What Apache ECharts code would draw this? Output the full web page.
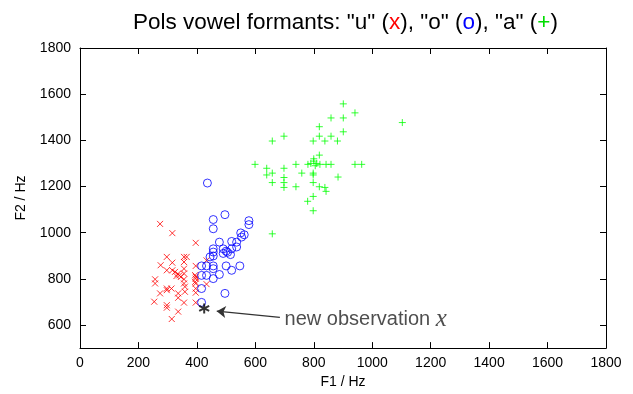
<!DOCTYPE html>
<html>
<head>
<meta charset="utf-8">
<script src="https://cdn.jsdelivr.net/npm/echarts@6/dist/echarts.min.js"></script>
<style>
  html, body { margin: 0; padding: 0; background: #fff; }
  #chart { width: 633px; height: 394px; }
</style>
</head>
<body>
<div id="chart"></div>
<script>
// vowel "u" : [F1, F2]
const vowelU = [
  [274, 1038], [316, 998], [396, 956], [297, 895], [356, 895], [365, 895],
  [276, 859], [316, 870], [356, 873], [396, 856], [297, 837], [316, 837],
  [325, 830], [340, 815], [335, 822], [345, 808], [330, 812], [356, 844],
  [356, 823], [396, 809], [396, 801], [257, 798], [257, 780], [356, 798],
  [356, 780], [297, 758], [297, 751], [313, 758], [274, 737], [336, 737],
  [336, 718], [359, 766], [359, 744], [396, 780], [396, 758], [396, 740],
  [254, 701], [297, 686], [297, 675], [356, 697], [396, 697], [336, 658],
  [314, 626], [433, 880], [433, 777], [394, 787], [394, 816]
]
// vowel "o"
const vowelO = [
  [436, 1215], [496, 1078], [456, 1057], [456, 1017], [578, 1052], [578, 1035],
  [553, 981], [562, 991], [550, 999], [477, 959], [519, 962], [536, 959],
  [456, 930], [456, 916], [490, 930], [500, 920], [490, 910], [505, 915],
  [515, 905], [519, 930], [536, 938], [445, 895], [456, 899], [416, 856],
  [433, 856], [456, 856], [456, 844], [500, 856], [519, 837], [547, 856],
  [416, 815], [433, 815], [456, 801], [477, 819], [416, 758], [496, 737],
  [416, 698]
]
// vowel "a"
const vowelA = [
  [901, 1558], [941, 1519], [859, 1497], [901, 1497], [1103, 1477], [819, 1459],
  [901, 1437], [819, 1418], [859, 1418], [658, 1397], [698, 1418], [798, 1397],
  [838, 1397], [881, 1397], [819, 1336], [599, 1296], [639, 1279], [639, 1250],
  [658, 1258], [658, 1217], [698, 1279], [698, 1239], [698, 1217], [698, 1196],
  [739, 1296], [739, 1199], [759, 1258], [780, 1296], [790, 1300], [800, 1310],
  [805, 1290], [810, 1300], [821, 1296], [800, 1320], [842, 1296], [859, 1296],
  [941, 1296], [964, 1296], [798, 1258], [798, 1250], [798, 1217], [819, 1199],
  [838, 1196], [842, 1179], [883, 1241], [798, 1157], [779, 1136], [798, 1095],
  [658, 995]
]
const newObs = [[425, 672]]
const arrowFrom = [684, 633]
const arrowTo = [468, 660]
const labelAt = [700, 626]

const yTicks = [600, 800, 1000, 1200, 1400, 1600, 1800]

const font = 'Liberation Sans, Arial, sans-serif'
const tickStyle = { color: '#000', width: 1 }
const frameAxis = (extra) => Object.assign({
  type: 'value',
  axisLine: { show: true, onZero: false, lineStyle: { color: '#000', width: 1 } },
  splitLine: { show: false }
}, extra)

const chart = echarts.init(document.getElementById('chart'))
chart.setOption({
  animation: false,
  title: {
    left: 128,
    top: 6,
    text: '{a|Pols vowel formants: "u" (}{r|x}{a|), "o" (}{b|o}{a|), "a" (}{g|+}{a|)}',
    textStyle: {
      fontWeight: 'normal',
      rich: {
        a: { fontFamily: font, fontSize: 22.5, fontWeight: 'normal', color: '#000' },
        r: { fontFamily: font, fontSize: 22.5, fontWeight: 'normal', color: '#ff0000' },
        b: { fontFamily: font, fontSize: 22.5, fontWeight: 'normal', color: '#0000ff' },
        g: { fontFamily: font, fontSize: 22.5, fontWeight: 'normal', color: '#00dd00' }
      }
    }
  },
  grid: { left: 80, right: 27, top: 48, bottom: 44 },
  xAxis: [
    frameAxis({
      min: 0, max: 1800, interval: 200,
      name: 'F1 / Hz', nameLocation: 'middle', nameGap: 25,
      nameTextStyle: { fontFamily: font, fontSize: 14, color: '#000' },
      axisLabel: { fontFamily: font, fontSize: 14, color: '#000', margin: 8, formatter: v => String(v) },
      axisTick: { show: true, inside: true, length: 6, lineStyle: tickStyle }
    }),
    frameAxis({
      min: 0, max: 1800, interval: 200, position: 'top',
      axisLabel: { show: false },
      axisTick: { show: true, inside: true, length: 6, lineStyle: tickStyle }
    })
  ],
  yAxis: [
    frameAxis({
      min: 500, max: 1800,
      name: 'F2 / Hz', nameLocation: 'middle', nameGap: 52,
      nameTextStyle: { fontFamily: font, fontSize: 14, color: '#000' },
      axisLabel: { fontFamily: font, fontSize: 14, color: '#000', margin: 9, customValues: yTicks, formatter: v => String(v) },
      axisTick: { show: true, inside: true, length: 6, customValues: yTicks, lineStyle: tickStyle }
    }),
    frameAxis({
      min: 500, max: 1800, position: 'right',
      axisLabel: { show: false },
      axisTick: { show: true, inside: true, length: 6, customValues: yTicks, lineStyle: tickStyle }
    })
  ],
  series: [
    {
      type: 'scatter', data: vowelU, silent: true,
      symbol: 'path://M0,0L10,10M10,0L0,10', symbolSize: 6,
      itemStyle: { color: 'transparent', borderColor: '#ff0000', borderWidth: 1 }
    },
    {
      type: 'scatter', data: vowelO, silent: true,
      symbol: 'circle', symbolSize: 8,
      itemStyle: { color: 'transparent', borderColor: '#0000ff', borderWidth: 1 }
    },
    {
      type: 'scatter', data: vowelA, silent: true,
      symbol: 'path://M5,0L5,10M0,5L10,5', symbolSize: 7,
      itemStyle: { color: 'transparent', borderColor: '#00ff00', borderWidth: 1 }
    },
    {
      type: 'scatter', data: newObs, silent: true,
      symbol: 'path://M5,0L5,10M0.67,2.5L9.33,7.5M0.67,7.5L9.33,2.5', symbolSize: 10,
      itemStyle: { color: 'transparent', borderColor: '#000', borderWidth: 2 },
      markLine: {
        silent: true, animation: false,
        symbol: ['none', 'arrow'], symbolSize: 9,
        label: { show: false },
        emphasis: { disabled: true },
        itemStyle: { color: '#333' },
        lineStyle: { color: '#333', width: 1.2, type: 'solid', curveness: 0.12 },
        data: [[{ coord: arrowFrom }, { coord: arrowTo }]]
      }
    },
    {
      type: 'scatter', data: [labelAt], silent: true,
      symbolSize: 0,
      label: {
        show: true, position: 'right', distance: 0,
        formatter: '{t|new observation }{x|x}',
        rich: {
          t: { fontFamily: font, fontSize: 20, color: '#222' },
          x: { fontFamily: 'Liberation Serif, DejaVu Serif, serif', fontStyle: 'italic', fontSize: 25, color: '#222' }
        }
      }
    }
  ]
})
</script>
</body>
</html>
